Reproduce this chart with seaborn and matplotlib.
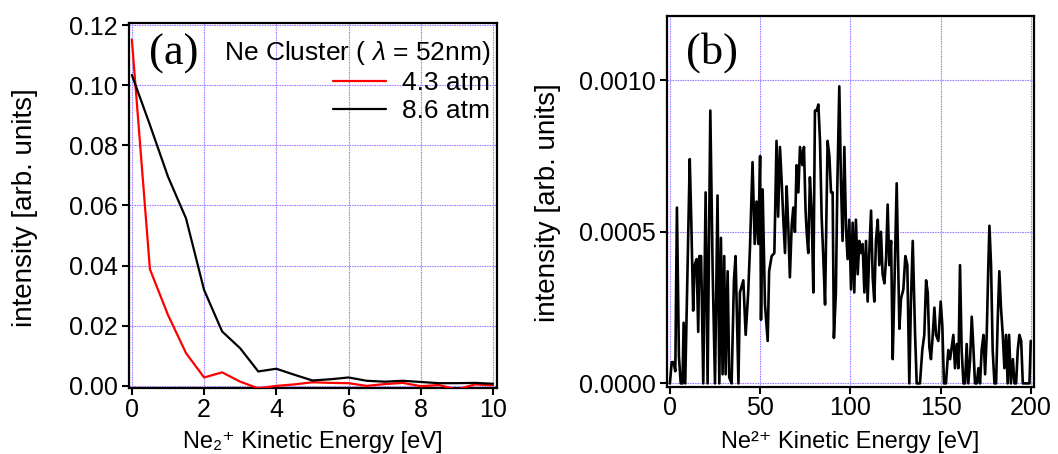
import numpy as np
import pandas as pd
import matplotlib
matplotlib.use("Agg")
import matplotlib.pyplot as plt
import seaborn as sns
from matplotlib.ticker import FormatStrFormatter, MultipleLocator

# ---------------- data: panel (a) ----------------
energy_a = [0, 0.5, 1.0, 1.5, 2.0, 2.5, 3.0, 3.5, 4.0, 4.5, 5.0,
            5.5, 6.0, 6.5, 7.0, 7.5, 8.0, 8.5, 9.0, 9.5, 10.0]
red_43 = [0.1152, 0.0388, 0.0236, 0.0109, 0.0028, 0.0045, 0.0014, -0.0008,
          0.0000, 0.0005, 0.0012, 0.0010, 0.0009, 0.0000, 0.0006, 0.0010,
          -0.0001, 0.0003, -0.0012, 0.0005, 0.0002]
black_86 = [0.1034, 0.0868, 0.0696, 0.0557, 0.0319, 0.0181, 0.0125, 0.0048,
            0.0057, 0.0037, 0.0018, 0.0022, 0.0028, 0.0017, 0.0014, 0.0017,
            0.0013, 0.0009, 0.0009, 0.0010, 0.0007]
series_names = ["4.3 atm", "8.6 atm"]

# ---------------- data: panel (b) ----------------
energy_b = [0, 1, 2, 3, 3.9, 5, 6, 7, 7.6, 8.5, 9.5, 11, 11.8, 12.9, 13.7, 14.8, 15.7, 16.3,
            17.3, 18.5, 19.8, 20.9, 22.4, 23.7, 25, 26.4, 27.4, 28.3, 29.2, 30.1, 30.9, 32,
            32.9, 34.2, 35.5, 36.4, 38, 38.8, 40.7, 42, 43.4, 44.4, 45.8, 47, 48, 49, 50,
            50.5, 51.4, 52.7, 54.2, 55, 56.4, 57.9, 59.1, 60, 61, 62, 62.8, 63.8, 64.7, 65.6,
            66.5, 67.5, 68.4, 69.3, 70.2, 71.2, 72.1, 73.4, 74.3, 75.2, 75.8, 76.7, 77.6,
            78.6, 79.5, 80.4, 81.3, 82.3, 83.2, 84.1, 85, 86, 86.9, 87.4, 88.4, 89.3, 90.2,
            90.9, 92, 92.8, 93.9, 94.8, 95.7, 96.7, 97.6, 98.5, 99.4, 100.4, 101.3, 102.2,
            103.1, 104.1, 105, 105.9, 106.8, 107.8, 108.7, 109.6, 110.5, 111.5, 112.4,
            113.3, 114.2, 115.2, 116.1, 117, 117.9, 118.9, 119.8, 120.7, 121.6, 122.6,
            123.5, 124.4, 125.7, 127.2, 128.1, 129.4, 130.5, 131.6, 132.7, 133.6, 134.6,
            135.9, 136.8, 137.7, 138.6, 139.9, 141, 142, 142.9, 143.8, 144.7, 145.7, 146.6,
            147.5, 148.8, 150.1, 151, 151.9, 153, 154.3, 155.3, 156.2, 157.1, 158, 159,
            159.9, 160.8, 161.7, 162.7, 163.6, 164.5, 165.4, 166.4, 167.3, 168.2, 169.1,
            170.1, 171, 171.9, 172.8, 173.8, 174.7, 175.6, 176.5, 177.1, 178, 178.9, 179.9,
            180.8, 181.7, 182.6, 183.5, 184.5, 185.4, 186.3, 187.2, 188, 189, 190.1, 191,
            191.9, 192.8, 193.7, 194.7, 195.6, 196.5, 197.8, 198.6, 199.3, 200]
intensity_b_e4 = [0, 0.7, 0.7, 0.4, 5.8, 0.9, 0, 0, 2.0, 0, 3.0, 7.4, 5.5, 2.4, 3.9, 4.1, 1.7, 4.2,
                  4.2, 0, 6.3, 0, 9.0, 3.7, 0, 6.2, 0, 4.8, 0.3, 4.2, 0.3, 3.7,
                  0.2, 0, 3.4, 4.2, 0, 3.0, 3.4, 1.6, 3.0, 4.5, 7.3, 4.6, 6.0, 4.6, 7.5,
                  2.1, 6.4, 2.6, 1.4, 3.7, 4.2, 4.3, 8.0, 5.5, 7.8, 6.6, 5.5, 4.3, 6.5, 5.2,
                  3.5, 5.2, 5.8, 5.0, 7.2, 6.3, 7.8, 7.2, 7.8, 5.7, 5.0, 4.3, 6.8,
                  5.6, 3.0, 9.0, 9.0, 9.2, 8.0, 5.5, 4.2, 2.6, 6.0, 8.0, 7.5, 6.3, 6.3,
                  1.5, 3.0, 6.5, 9.8, 6.7, 4.7, 7.8, 5.1, 4.1, 5.4, 3.1, 5.3, 3.0,
                  5.4, 3.6, 4.7, 4.3, 4.6, 3.0, 4.7, 2.7, 4.3, 5.7, 3.5,
                  2.7, 4.7, 5.4, 3.9, 5.0, 3.6, 3.3, 4.1, 5.9, 3.9, 4.7,
                  0.8, 3.1, 6.6, 1.8, 2.8, 3.1, 4.2, 3.9, 0, 2.7, 4.7,
                  1.6, 0, 0, 0, 1.1, 1.6, 3.4, 3.0, 1.2, 0.8, 1.6, 2.5,
                  1.6, 1.4, 2.7, 1.9, 0, 0, 1.1, 0.8, 1.2, 1.6, 0.5, 1.3,
                  0.5, 3.9, 1.1, 0, 0, 1.3, 0, 0.8, 2.2, 1.2, 0,
                  0, 0.5, 0, 1.1, 1.6, 0.3, 1.6, 3.9, 5.2, 3.9, 1.1, 0,
                  0, 2.1, 3.7, 2.5, 1.6, 0.5, 1.6, 0, 1.6, 0, 0.8, 0,
                  0, 1.1, 1.6, 1.4, 0, 0, 0, 0, 0, 1.4]

# ---------------- style ----------------
sns.set_theme(style="ticks")
plt.rcParams["font.family"] = ["Liberation Sans", "DejaVu Sans"]
plt.rcParams["mathtext.fontset"] = "custom"
plt.rcParams["mathtext.rm"] = "Liberation Sans"
plt.rcParams["mathtext.it"] = "Liberation Sans:italic"
plt.rcParams["mathtext.bf"] = "Liberation Sans:bold"
for key in ["text.color", "axes.labelcolor", "xtick.color", "ytick.color", "axes.edgecolor"]:
    plt.rcParams[key] = "black"
FS = 18
LFS = 20
XFS = 17

fig = plt.figure(figsize=(10.58, 4.54), dpi=100)
ax1 = fig.add_axes([0.1219, 0.1454, 0.3478, 0.8040])
ax2 = fig.add_axes([0.6301, 0.1482, 0.3472, 0.8172])

BLUE, MAG = "#6f8dff", "#d77cff"


def igor_grid(ax):
    xlo, xhi = ax.get_xlim()
    ylo, yhi = ax.get_ylim()
    for xv in ax.get_xticks():
        if xlo < xv < xhi:
            ax.axvline(xv, color=BLUE, lw=0.8, ls=(0, (1.5, 3.0)), zorder=0.5)
            ax.axvline(xv, color=MAG, lw=0.8, ls=(2.25, (1.5, 3.0)), zorder=0.5)
    for yv in ax.get_yticks():
        if ylo <= yv < yhi:
            ax.axhline(yv, color=BLUE, lw=0.8, ls=(0, (1.5, 3.0)), zorder=0.5)
            ax.axhline(yv, color=MAG, lw=0.8, ls=(2.25, (1.5, 3.0)), zorder=0.5)


def style_axes(ax):
    for sp in ax.spines.values():
        sp.set_color("black")
        sp.set_linewidth(1.6)
    ax.tick_params(axis="both", direction="out", length=5, width=1.5,
                   color="black", labelsize=FS, labelcolor="black")
    ax.tick_params(axis="y", pad=3)
    ax.tick_params(axis="x", pad=2)
    ax.set_facecolor("white")


# ---------------- panel (a) ----------------
df_a = pd.DataFrame({
    "energy": energy_a + energy_a,
    "intensity": red_43 + black_86,
    "pressure": [series_names[0]] * len(energy_a) + [series_names[1]] * len(energy_a),
})
sns.lineplot(data=df_a, x="energy", y="intensity", hue="pressure",
             palette={series_names[0]: "#ff0000", series_names[1]: "black"},
             estimator=None, errorbar=None, lw=1.6, ax=ax1, zorder=3)
ax1.set_xlim(-0.08, 10.11)
ax1.set_ylim(-0.0007, 0.1207)
ax1.xaxis.set_major_locator(MultipleLocator(2))
ax1.yaxis.set_major_locator(MultipleLocator(0.02))
ax1.yaxis.set_major_formatter(FormatStrFormatter("%.2f"))
style_axes(ax1)
igor_grid(ax1)
ax1.set_xlabel("Ne\u2082\u207a Kinetic Energy [eV]", fontsize=XFS, va="bottom")
ax1.xaxis.set_label_coords(0.5, -0.1775)
ax1.set_ylabel("intensity [arb. units]", fontsize=LFS, va="center")
ax1.yaxis.set_label_coords(-0.283, 0.494)
ax1.text(0.122, 0.915, "(a)", transform=ax1.transAxes, ha="center", va="center",
         family="Liberation Serif", fontsize=32)
sns.move_legend(ax1, "upper right", bbox_to_anchor=(0.981, 0.955),
                title=r"Ne Cluster ( $\lambda$ = 52nm)", frameon=False,
                fontsize=19, title_fontsize=19, handlelength=2.0,
                handletextpad=0.6, labelspacing=0.15, borderpad=0,
                borderaxespad=0, alignment="right")

# ---------------- panel (b) ----------------
intensity_b = np.array(intensity_b_e4) * 1e-4
sns.lineplot(x=energy_b, y=intensity_b, color="black", lw=1.9,
             estimator=None, errorbar=None, ax=ax2, zorder=3)
ax2.set_xlim(-1.8, 201.8)
ax2.set_ylim(-0.000011, 0.001213)
ax2.xaxis.set_major_locator(MultipleLocator(50))
ax2.yaxis.set_major_locator(MultipleLocator(0.0005))
ax2.yaxis.set_major_formatter(FormatStrFormatter("%.4f"))
style_axes(ax2)
igor_grid(ax2)
ax2.set_xlabel("Ne\u00b2\u207a Kinetic Energy [eV]", fontsize=XFS, va="bottom")
ax2.xaxis.set_label_coords(0.5, -0.1785)
ax2.set_ylabel("intensity [arb. units]", fontsize=LFS, va="center")
ax2.yaxis.set_label_coords(-0.323, 0.4965)
ax2.text(0.123, 0.902, "(b)", transform=ax2.transAxes, ha="center", va="center",
         family="Liberation Serif", fontsize=32)

fig.savefig("out.png", dpi=100, facecolor="white")
